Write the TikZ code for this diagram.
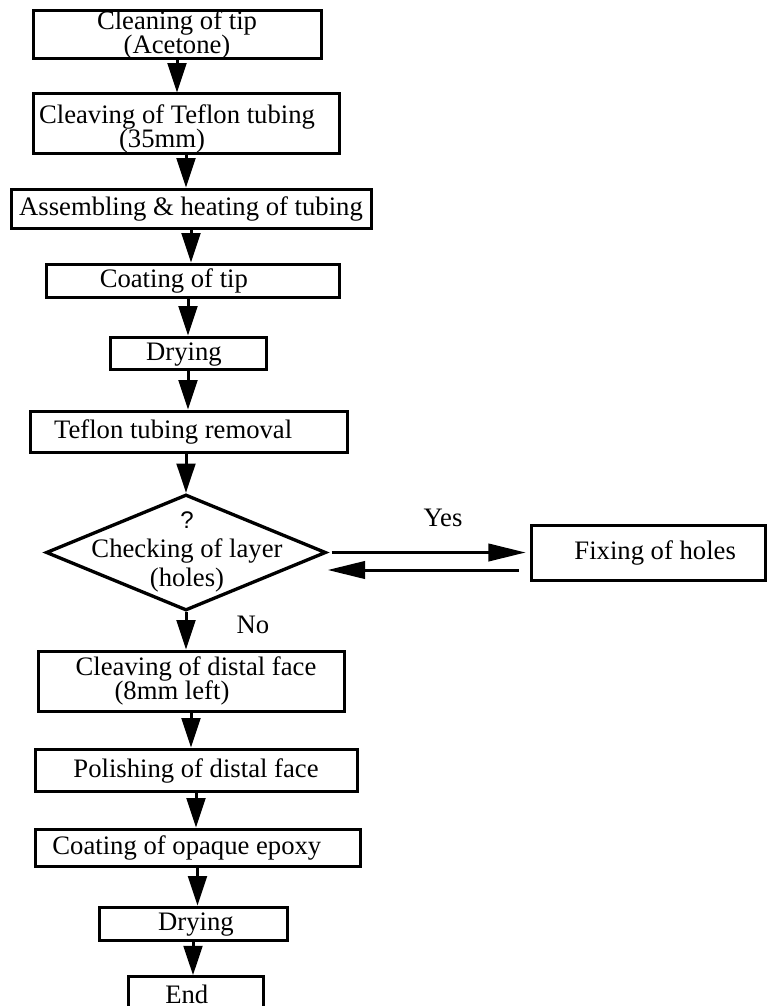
\documentclass[tikz,border=0pt]{standalone}
\usepackage{fontspec}
\setmainfont{Liberation Serif}
\newfontfamily\qfont{Liberation Sans}
\usetikzlibrary{shapes.geometric,arrows.meta,calc}
\newcommand{\tightlines}{\lineskiplimit=-100pt\relax}

\tikzset{
  stepbox/.style={draw, line width=2.25pt, inner sep=0pt, text height=14pt, text depth=3.5pt},
  twoline/.style={draw, line width=2.25pt, inner sep=0pt, align=center},
  decide/.style={draw, diamond, line width=2.5pt, inner sep=0pt, aspect=2.35},
  flow/.style={line width=2.25pt, -{Triangle[length=22pt,width=14pt]}},
  flowh/.style={line width=2.25pt, -{Triangle[length=28pt,width=13pt]}},
}

\begin{document}
\begin{tikzpicture}[x=0.75pt,y=0.75pt,yscale=-1,xscale=1,
  every node/.style={font=\fontsize{20pt}{17pt}\selectfont}]
\useasboundingbox (0,0) rectangle (768,1006);

%Process boxes
\node[twoline, minimum width=216pt, minimum height=35.25pt, font={\fontsize{20pt}{18pt}\selectfont\tightlines}] (clean) at (177,34.5) {Cleaning of tip\\(Acetone)};
\node[twoline, minimum width=229.5pt, minimum height=41.25pt, font={\fontsize{20pt}{18pt}\selectfont\tightlines}] (cleave) at (186,123.5) {\rule{0pt}{22pt}Cleaving of Teflon tubing\hspace*{13.5pt}\\(35mm)\hspace*{36pt}};
\node[stepbox, minimum width=270pt, minimum height=29.25pt] (assemble) at (191,208.5) {Assembling \& heating of tubing};
\node[stepbox, minimum width=219.75pt, minimum height=24.75pt] (coat) at (192.5,280.5) {Coating of tip\hspace*{28pt}};
\node[stepbox, minimum width=117pt, minimum height=24pt] (dry) at (188,353) {Drying\hspace*{6pt}};
\node[stepbox, minimum width=237.75pt, minimum height=30.75pt] (removal) at (188.5,431.5) {Teflon tubing removal\hspace*{23pt}};

%Decision
\node[decide, minimum width=210pt, minimum height=87pt] (check) at (186,552.5) {};
\node[align=center, inner sep=0pt, font={\fontsize{20pt}{22pt}\selectfont\tightlines}] (checktext) at (187,552) {{\qfont\fontsize{18pt}{22pt}\selectfont ?}\\Checking of layer\\(holes)};
\node[stepbox, minimum width=176pt, minimum height=41.25pt] (fix) at (648.5,552.5) {\hspace*{10pt}Fixing of holes};

\node[twoline, minimum width=229.5pt, minimum height=45pt, font={\fontsize{20pt}{18pt}\selectfont\tightlines}] (distal) at (191,681) {\hspace*{7.5pt}Cleaving of distal face\\(8mm left)\hspace*{28.5pt}};
\node[stepbox, minimum width=241.5pt, minimum height=31.5pt] (polish) at (196,770) {Polishing of distal face};
\node[stepbox, minimum width=243.75pt, minimum height=27.75pt] (epoxy) at (197.5,847.5) {Coating of opaque epoxy\hspace*{16pt}};
\node[stepbox, minimum width=141pt, minimum height=24.75pt] (dry2) at (193,923.5) {\hspace*{4.5pt}Drying};
\node[stepbox, minimum width=101.25pt, minimum height=26pt, text depth=0pt] (finish) at (195.5,994) {End\hspace*{13pt}};

%Labels
\node[anchor=base, inner sep=0pt] (yes) at (443,526) {Yes};
\node[anchor=base, inner sep=0pt] (no) at (253,633) {No};

%Arrows
\draw[flow] (clean.south) -- (clean.south |- cleave.north);
\draw[flow] (cleave.south) -- (cleave.south |- assemble.north);
\draw[flow] (assemble.south) -- (assemble.south |- coat.north);
\draw[flow] (coat.south -| dry.north) -- (dry.north);
\draw[flow] (dry.south) -- (dry.south |- removal.north);
\draw[flow] (removal.south -| check.north) -- (check.north);
\draw[flow] (check.south) -- (check.south |- distal.north);
\draw[flow] (distal.south) -- (distal.south |- polish.north);
\draw[flow] (polish.south) -- (polish.south |- epoxy.north);
\draw[flow] (epoxy.south) -- (epoxy.south |- dry2.north);
\draw[flow] (dry2.south) -- (dry2.south |- finish.north);

\draw[flowh] ($(check.east)+(4,0)$) -- ($(fix.west)+(-4,0)$);
\draw[flowh] ($(fix.west)+(-11,17.5)$) -- ($(check.east)+(0,17.5)$);
\end{tikzpicture}
\end{document}
